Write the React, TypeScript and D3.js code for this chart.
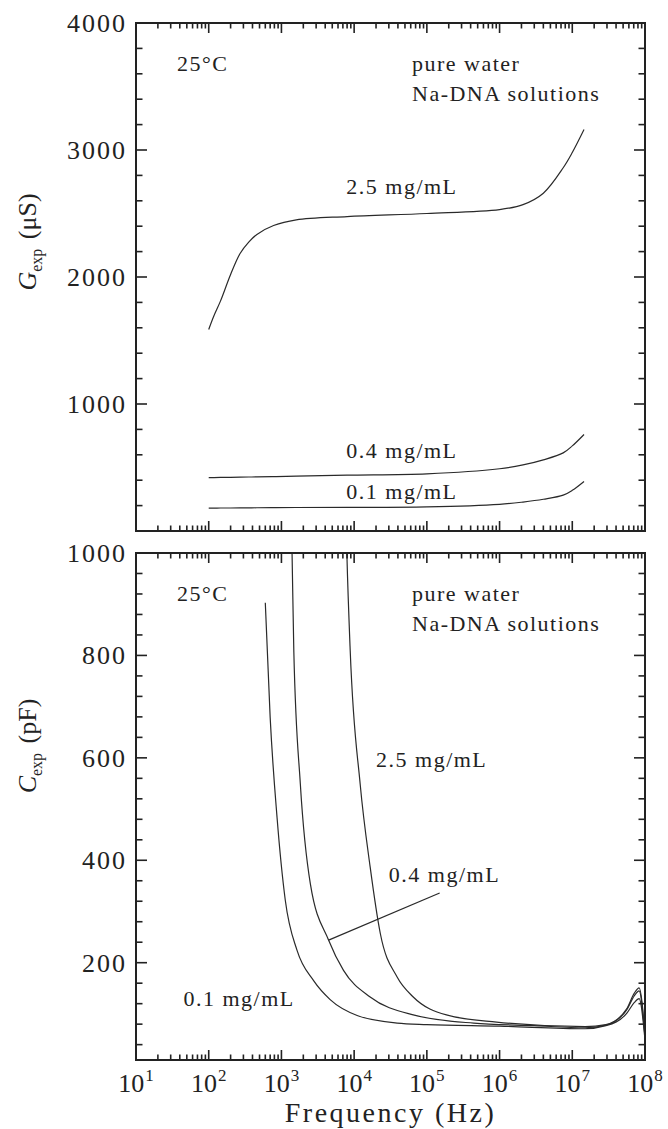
import React, { useEffect, useRef } from 'react';
import * as d3 from 'd3';

// top panel: conductance G (uS) vs frequency
const gFreq = [100, 118, 145, 200, 270, 355, 460, 780, 1600, 8000, 1e5, 1e6, 2.1e6, 4e6, 7.5e6, 1e7, 1.45e7];
const g25 = [1587, 1695, 1810, 2020, 2185, 2275, 2335, 2405, 2450, 2476, 2500, 2531, 2570, 2660, 2860, 2980, 3161];
const g04 = [421, 421, 422, 423, 424, 425, 426, 428, 432, 440, 450, 490, 520, 560, 615, 670, 760];
const g01 = [180, 180, 181, 181, 182, 182, 183, 184, 185, 186, 190, 210, 228, 250, 282, 320, 390];

// bottom panel: capacitance C (pF) vs frequency
const c01Freq = [600, 700, 870, 1130, 1640, 2770, 4680, 1.1e4, 3.9e4, 1e5, 1e6, 1.5e7, 2.9e7, 5.6e7, 7.1e7, 8.3e7, 1e8];
const c01 = [903, 679, 484, 322, 224, 165, 128, 97, 82, 79, 76, 71, 77, 101, 122, 130, 49];
const c04Freq = [1320, 1400, 1480, 1820, 2500, 4460, 7140, 1.66e4, 6.5e4, 4.4e5, 3e6, 1.5e7, 2.9e7, 5.6e7, 7.1e7, 8.3e7, 1e8];
const c04 = [1150, 1000, 809, 549, 354, 244, 185, 133, 98, 82, 77, 73, 78, 108, 135, 145, 55];
const c25Freq = [7500, 7940, 8830, 1.21e4, 1.66e4, 2.29e4, 3.9e4, 6.5e4, 1.86e5, 9.1e5, 1.5e7, 2.9e7, 5.6e7, 7.1e7, 8.3e7, 1e8];
const c25 = [1150, 1000, 809, 549, 387, 257, 172, 133, 98, 84, 75, 79, 110, 140, 151, 58];

const xDecades = [10, 100, 1e3, 1e4, 1e5, 1e6, 1e7, 1e8];
const gTicks = [1000, 2000, 3000, 4000];
const cTicks = [200, 400, 600, 800, 1000];

// curve labels in data coordinates [freq, value, text]
const gLabels: [number, number, string][] = [
  [7800, 2655, '2.5 mg/mL'],
  [7800, 576, '0.4 mg/mL'],
  [7800, 254, '0.1 mg/mL'],
];
const cLabels: [number, number, string][] = [
  [2.0e4, 582, '2.5 mg/mL'],
  [3.0e4, 358, '0.4 mg/mL'],
  [45, 115, '0.1 mg/mL'],
];
const cPointer: [number, number][] = [[4460, 244], [1.5e5, 336]];

const FONT = '"Liberation Serif", "Times New Roman", serif';

const App = () => {
  const ref = useRef<SVGSVGElement>(null);

  useEffect(() => {
    const svg = d3.select(ref.current);
    svg.selectAll('*').remove();

    const left = 136, right = 645;
    const x = d3.scaleLog().domain([10, 1e8]).range([left, right]);

    const panels = [
      {
        top: 23, bottom: 531, domain: [0, 4000], ticks: gTicks, minorStep: 200,
        series: [[gFreq, g25], [gFreq, g04], [gFreq, g01]],
        curve: d3.curveCatmullRom.alpha(0.5),
        labels: gLabels, title: ['G', 'exp', ' (\u03bcS)'], titleY: 242, id: 'g',
      },
      {
        top: 553, bottom: 1060, domain: [10, 1000], ticks: cTicks, minorStep: 40,
        series: [[c01Freq, c01], [c04Freq, c04], [c25Freq, c25]],
        curve: d3.curveMonotoneX,
        labels: cLabels, title: ['C', 'exp', ' (pF)'], titleY: 746, id: 'c',
      },
    ];

    const minorX: number[] = [];
    for (let k = 1; k < 8; k++) for (let m = 2; m <= 9; m++) minorX.push(m * 10 ** k);

    panels.forEach((p) => {
      const y = d3.scaleLinear().domain(p.domain).range([p.bottom, p.top]);
      const g = svg.append('g');

      g.append('clipPath').attr('id', 'clip-' + p.id)
        .append('rect').attr('x', left).attr('y', p.top).attr('width', right - left).attr('height', p.bottom - p.top);

      const line = d3.line<[number, number]>()
        .x((d) => x(d[0]))
        .y((d) => y(d[1]))
        .curve(p.curve);

      p.series.forEach(([fs, vs]) => {
        g.append('path')
          .attr('d', line(fs.map((f, i) => [f, vs[i]] as [number, number])))
          .attr('fill', 'none')
          .attr('stroke', '#2a2a2a')
          .attr('stroke-width', 1.2)
          .attr('clip-path', `url(#clip-${p.id})`);
      });

      // ticks, inward on all four sides
      const tk = g.append('g').attr('stroke', '#222').attr('stroke-width', 1.6);
      const yMinor = d3.range(p.domain[0] - (p.domain[0] % p.minorStep) + p.minorStep, p.domain[1], p.minorStep)
        .filter((v) => v % (p.minorStep * 5) !== 0);
      p.ticks.forEach((v) => {
        tk.append('line').attr('x1', left).attr('x2', left + 11).attr('y1', y(v)).attr('y2', y(v));
        tk.append('line').attr('x1', right).attr('x2', right - 11).attr('y1', y(v)).attr('y2', y(v));
      });
      yMinor.forEach((v) => {
        tk.append('line').attr('x1', left).attr('x2', left + 6.5).attr('y1', y(v)).attr('y2', y(v));
        tk.append('line').attr('x1', right).attr('x2', right - 6.5).attr('y1', y(v)).attr('y2', y(v));
      });
      xDecades.forEach((f) => {
        tk.append('line').attr('x1', x(f)).attr('x2', x(f)).attr('y1', p.bottom).attr('y2', p.bottom - 10);
        tk.append('line').attr('x1', x(f)).attr('x2', x(f)).attr('y1', p.top).attr('y2', p.top + 10);
      });
      minorX.forEach((f) => {
        tk.append('line').attr('x1', x(f)).attr('x2', x(f)).attr('y1', p.bottom).attr('y2', p.bottom - 5.5);
        tk.append('line').attr('x1', x(f)).attr('x2', x(f)).attr('y1', p.top).attr('y2', p.top + 5.5);
      });

      g.append('rect')
        .attr('x', left).attr('y', p.top)
        .attr('width', right - left).attr('height', p.bottom - p.top)
        .attr('fill', 'none').attr('stroke', '#222').attr('stroke-width', 2);

      // y tick labels
      p.ticks.forEach((v) => {
        g.append('text')
          .attr('x', left - 9).attr('y', y(v) + 9)
          .attr('text-anchor', 'end')
          .attr('font-family', FONT).attr('font-size', 26).attr('letter-spacing', 2)
          .attr('fill', '#222')
          .text(v);
      });

      // y title
      const t = g.append('text')
        .attr('transform', `translate(36,${p.titleY}) rotate(-90)`)
        .attr('text-anchor', 'middle')
        .attr('font-family', FONT).attr('font-size', 26).attr('fill', '#222');
      t.append('tspan').attr('font-style', 'italic').text(p.title[0]);
      t.append('tspan').attr('font-size', 16).attr('dy', 6).text(p.title[1]);
      t.append('tspan').attr('dy', -6).attr('dx', 3).text(p.title[2]);

      // annotations
      const ann = (tx: number, ty: number, s: string) =>
        g.append('text').attr('x', tx).attr('y', ty)
          .attr('font-family', FONT).attr('font-size', 22).attr('letter-spacing', 1.5)
          .attr('fill', '#222').text(s);
      ann(177, p.top + 48, '25\u00b0C');
      ann(412, p.top + 48, 'pure water');
      ann(412, p.top + 78, 'Na-DNA solutions');
      p.labels.forEach(([f, v, s]) => ann(x(f), y(v), s));

      if (p.id === 'c') {
        g.append('path')
          .attr('d', d3.line()(cPointer.map(([f, v]) => [x(f), y(v)] as [number, number])))
          .attr('stroke', '#2a2a2a').attr('stroke-width', 1.2).attr('fill', 'none');

        // x tick labels
        xDecades.forEach((f, i) => {
          const lt = g.append('text')
            .attr('x', x(f)).attr('y', p.bottom + 32)
            .attr('text-anchor', 'middle')
            .attr('font-family', FONT).attr('font-size', 26).attr('fill', '#222');
          lt.append('tspan').text('10');
          lt.append('tspan').attr('font-size', 17).attr('dy', -11).attr('dx', 1).text(String(i + 1));
        });
        g.append('text')
          .attr('x', (left + right) / 2).attr('y', p.bottom + 62)
          .attr('text-anchor', 'middle')
          .attr('font-family', FONT).attr('font-size', 28).attr('letter-spacing', 2.5)
          .attr('fill', '#222')
          .text('Frequency (Hz)');
      }
    });
  }, []);

  return (
    <svg
      ref={ref}
      width={668}
      height={1129}
      style={{ position: 'absolute', left: 0, top: 0, background: '#fff' }}
    />
  );
};

export default App;
